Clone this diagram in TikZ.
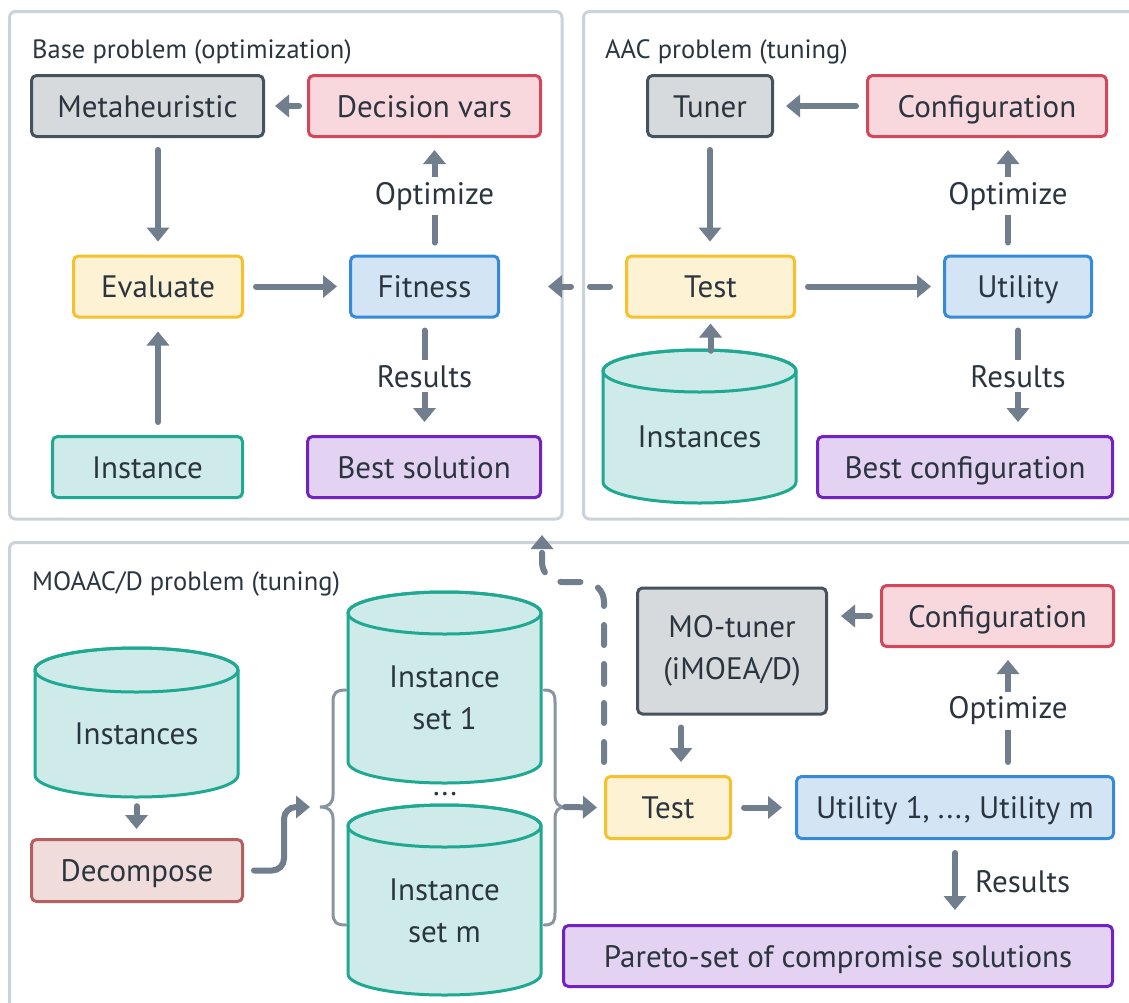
\documentclass[tikz,border=0pt]{standalone}
\usepackage{fontspec}
\setmainfont{PT Sans}
\usetikzlibrary{arrows.meta,calc}

\definecolor{ink}{HTML}{2B3540}
\definecolor{wire}{HTML}{717E8E}
\definecolor{frame}{HTML}{CBD3DA}
\definecolor{bracec}{HTML}{8A95A2}
\definecolor{grayF}{HTML}{D7DADD}\definecolor{grayD}{HTML}{46525E}
\definecolor{redF}{HTML}{F8D7DD}\definecolor{redD}{HTML}{D4475A}
\definecolor{yelF}{HTML}{FDF2D4}\definecolor{yelD}{HTML}{F6C12C}
\definecolor{bluF}{HTML}{D3E4F5}\definecolor{bluD}{HTML}{358BDA}
\definecolor{tealF}{HTML}{CFEBE9}\definecolor{tealD}{HTML}{1FA892}
\definecolor{purF}{HTML}{E3D2F1}\definecolor{purD}{HTML}{7421C4}
\definecolor{decF}{HTML}{F1DCDC}\definecolor{decD}{HTML}{B55F61}

\newcommand\dgmfont{\fontsize{31}{42}\selectfont}
\newcommand\headfont{\fontsize{26.5}{30}\selectfont}

% database drum: centre x, top y, bottom y, half width, cap depth
\newcommand\drum[5]{%
  \path[drumface] (#1-#4,#2+#5) -- (#1-#4,#3-#5)
     arc[start angle=180, end angle=0, x radius=#4, y radius=#5]
     -- (#1+#4,#2+#5)
     arc[start angle=0, end angle=-180, x radius=#4, y radius=#5] -- cycle;
  \draw[drumface, fill=none] (#1,#2+#5) ellipse[x radius=#4, y radius=#5];
}

\tikzset{
  panel/.style={draw=frame, line width=3pt, rounded corners=6pt},
  head/.style={font=\headfont, text=ink, anchor=base west, inner sep=0pt},
  box/.style={rectangle, rounded corners=5pt, line width=3pt, draw,
    minimum height=61pt, inner sep=0pt, font=\dgmfont, text=ink},
  single/.style={text height=22pt, text depth=0pt},
  graybox/.style={box, fill=grayF, draw=grayD},
  redbox/.style={box, fill=redF, draw=redD},
  yelbox/.style={box, fill=yelF, draw=yelD},
  blubox/.style={box, fill=bluF, draw=bluD},
  tealbox/.style={box, fill=tealF, draw=tealD},
  purbox/.style={box, fill=purF, draw=purD},
  decbox/.style={box, fill=decF, draw=decD},
  drumface/.style={fill=tealF, draw=tealD, line width=3pt},
  drumtext/.style={font=\dgmfont, text=ink, align=center, inner sep=0pt},
  flow/.style={line width=6pt, draw=wire, line cap=round,
    -{Triangle[width=22pt,length=14pt]}},
  dflow/.style={flow, dash pattern=on 20pt off 19pt},
  lbl/.style={fill=white, font=\dgmfont, text=ink, inner xsep=3pt, inner ysep=5pt},
  bracepen/.style={draw=bracec, line width=3pt, line cap=round},
}

\begin{document}
\begin{tikzpicture}[x=1pt, y=-1pt]
\clip (0,0) rectangle (1129,1002);
\fill[white] (0,0) rectangle (1129,1002);

% ---------- frames ----------
\draw[panel] (9.5,11.5) rectangle (562,519);
\draw[panel] (583.5,11.5) rectangle (1145,519);
\draw[panel] (9.5,542.5) rectangle (1145,1020);

\node[head] (h1) at (32,58) {Base problem (optimization)};
\node[head] (h2) at (605,58) {AAC problem (tuning)};
\node[head] (h3) at (32,590) {MOAAC/D problem (tuning)};

% ---------- base problem ----------
\node[graybox, single, minimum width=232] (meta) at (147.5,106) {Metaheuristic};
\node[redbox, single, minimum width=232] (dec) at (424.5,106) {Decision vars};
\node[yelbox, single, minimum width=169] (eval) at (158,286.5) {Evaluate};
\node[blubox, single, minimum width=148] (fit) at (424.5,286.5) {Fitness};
\node[tealbox, single, minimum width=190] (inst) at (147.5,467) {Instance};
\node[purbox, single, minimum width=233] (best) at (424,467) {Best solution};

\draw[flow] ($(dec.west)+(-8,0)$) -- ($(meta.east)+(10,0)$);
\draw[flow] ($(meta.south -| eval)+(0,12)$) -- ($(eval.north)+(0,-13)$);
\draw[flow] ($(inst.north -| eval)+(0,-13)$) -- ($(eval.south)+(0,13)$);
\draw[flow] ($(eval.east)+(12,0)$) -- ($(fit.west)+(-12,0)$);
\draw[flow] ($(fit.north)+(10,-12)$) -- node[lbl] (o1) {Optimize} ($(dec.south)+(10,12)$);
\draw[flow] ($(fit.south)+(0,12)$) -- node[lbl] (r1) {Results} ($(fit.south |- best.north)+(0,-13)$);

% ---------- AAC problem ----------
\node[graybox, single, minimum width=125] (tuner) at (710,106) {Tuner};
\node[redbox, single, minimum width=239] (conf) at (987,106) {Configuration};
\node[yelbox, single, minimum width=168] (test) at (710.5,286.5) {Test};
\node[blubox, single, minimum width=147] (util) at (1018,286.5) {Utility};
\node[purbox, single, minimum width=295] (bestc) at (965,467) {Best configuration};
\drum{699.5}{350}{503}{96.5}{21}
\node[drumtext, minimum width=193, minimum height=132] (insts) at (699.5,437) {Instances};

\draw[flow] ($(conf.west)+(-10,0)$) -- ($(tuner.east)+(12,0)$);
\draw[flow] ($(tuner.south)+(0,12)$) -- ($(tuner.south |- test.north)+(0,-13)$);
\draw[flow] ($(test.east)+(12,0)$) -- ($(util.west)+(-12,0)$);
\draw[flow] ($(util.north)+(-10,-12)$) -- node[lbl] (o2) {Optimize} ($(util.north |- conf.south)+(-10,12)$);
\draw[flow] ($(util.south)+(0,12)$) -- node[lbl] (r2) {Results} ($(util.south |- bestc.north)+(0,-13)$);
\draw[flow] ($(insts.north -| test.south)+(0,-20)$) -- ($(test.south)+(0,5)$);
\draw[dflow] ($(test.west)+(-15,0)$) -- ($(fit.east)+(48,0)$);

% ---------- MOAAC/D problem ----------
\drum{136.5}{648}{797}{101.5}{22}
\node[drumtext, minimum width=203, minimum height=127] (pool) at (136.5,733.5) {Instances};
\drum{444.5}{592}{783}{96.5}{21}
\node[drumtext, minimum width=193, minimum height=170] (set1) at (444.5,698) {Instance\\set 1};
\drum{444.5}{805}{995}{96.5}{21}
\node[drumtext, minimum width=193, minimum height=169] (setm) at (444.5,910.5) {Instance\\set m};
\node[font=\dgmfont, text=ink, anchor=base, inner sep=0pt] (gap) at (445,795) {...};

\node[decbox, single, minimum width=211, minimum height=62] (dcp) at (137,870.5) {Decompose};
\node[graybox, align=center, minimum width=189, minimum height=126] (mot) at (732,651) {MO-tuner\\(iMOEA/D)};
\node[redbox, single, minimum width=232] (conf2) at (997.5,616) {Configuration};
\node[yelbox, single, minimum width=125, minimum height=62] (test2) at (668,807.5) {Test};
\node[blubox, single, minimum width=317, minimum height=62] (utm) at (955,807.5) {Utility 1, ..., Utility m};
\node[purbox, single, minimum width=549] (pareto) at (838,956) {Pareto-set of compromise solutions};

\coordinate (lb) at (320,807);
\coordinate (rb) at (565,807);
\coordinate (up) at (542,535);

% braces around the instance sets
\draw[bracepen] (346,690) .. controls (336,690) and (333,693) .. (333,702)
  -- (333,795) .. controls (333,803) and (329,807) .. (lb)
  .. controls (329,807) and (333,811) .. (333,819)
  -- (333,913) .. controls (333,922) and (336,925) .. (346,925);
\draw[bracepen] (544,690) .. controls (553,690) and (555,693) .. (555,702)
  -- (555,795) .. controls (555,803) and (558,807) .. (rb)
  .. controls (558,807) and (555,811) .. (555,819)
  -- (555,913) .. controls (555,922) and (553,925) .. (544,925);

\draw[flow] ($(pool.south)+(0,9)$) -- ($(pool.south |- dcp.north)+(0,-9)$);
\draw[flow, rounded corners=12pt] ($(dcp.east)+(10,0)$) -- ($(dcp.east)+(40,0)$) |- ($(lb)+(-10,0)$);
\draw[flow] (rb) -- ($(test2.west)+(-7,0)$);
\draw[flow] ($(conf2.west)+(-10,0)$) -- ($(conf2.west -| mot.east)+(13,0)$);
\draw[flow] ($(mot.south -| test2.north)+(13,12)$) -- ($(test2.north)+(13,-13)$);
\draw[flow] ($(test2.east)+(12,0)$) -- ($(utm.west)+(-13,0)$);
\draw[flow] ($(conf2.south |- utm.north)+(10.5,-13)$) -- node[lbl] (o3) {Optimize} ($(conf2.south)+(10.5,12)$);
\draw[flow] ($(utm.south)+(0,13)$) -- node[font=\dgmfont, text=ink, anchor=west, xshift=17pt, inner sep=0pt] (r3) {Results} ($(utm.south |- pareto.north)+(0,-14)$);
\draw[dflow, rounded corners=20pt] ($(test2.north west)+(0,-13)$) |- ($(up)+(0,47)$) -- (up);

\end{tikzpicture}
\end{document}
